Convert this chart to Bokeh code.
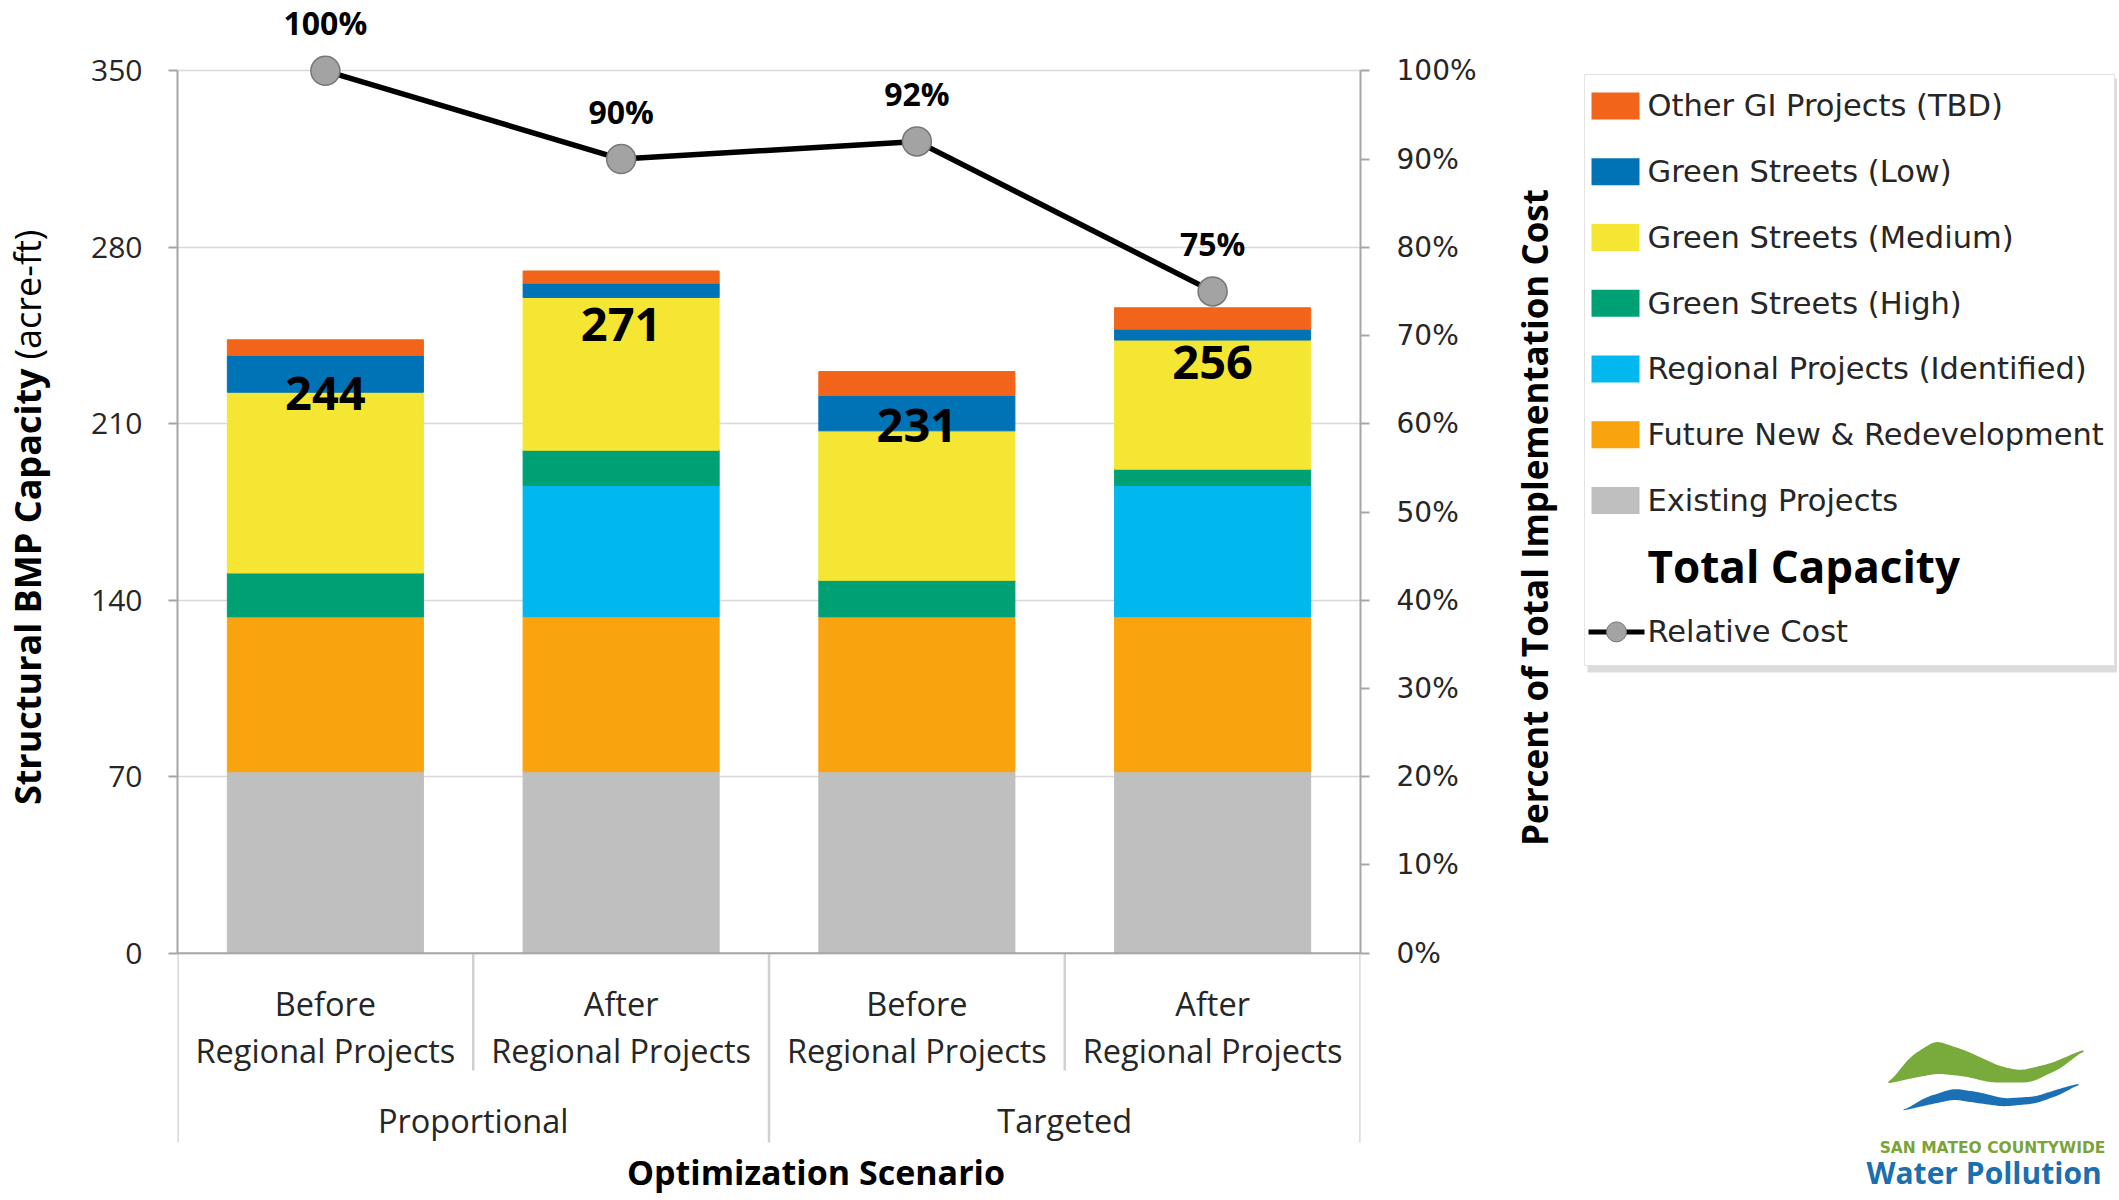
import numpy as np
from bokeh.plotting import figure
from bokeh.models import (ColumnDataSource, FactorRange, Range1d, LinearAxis, FixedTicker,
                          PrintfTickFormatter, Span)
from bokeh.layouts import row
from bokeh.embed import file_html
from bokeh.resources import INLINE
from bokeh.core.properties import value

# ---------------- data ----------------
groups = ["Proportional", "Proportional", "Targeted", "Targeted"]
stages = ["Before", "After", "Before", "After"]
stage_sub = ["Regional Projects"] * 4
group_names = ["Proportional", "Targeted"]

existing = [72.0, 72.0, 72.0, 72.0]
future_new = [61.5, 61.5, 61.5, 61.5]
regional = [0.0, 52.0, 0.0, 52.0]
gs_high = [17.3, 14.0, 14.4, 6.5]
gs_medium = [71.7, 60.6, 59.3, 51.2]
gs_low = [14.6, 5.6, 14.0, 4.3]
other_gi = [6.2, 4.9, 9.5, 8.5]
total_capacity = [244, 271, 231, 256]
relative_cost = [100, 90, 92, 75]

series_keys = ["existing", "future_new", "regional", "gs_high", "gs_medium", "gs_low", "other_gi"]
series_labels = ["Existing Projects", "Future New & Redevelopment", "Regional Projects (Identified)",
                 "Green Streets (High)", "Green Streets (Medium)", "Green Streets (Low)",
                 "Other GI Projects (TBD)"]
series_colors = ["#bfbfbf", "#f9a30f", "#00b7ee", "#00a075", "#f5e634", "#0073b7", "#f26419"]

left_ticks = [0, 70, 140, 210, 280, 350]
right_ticks = [0, 10, 20, 30, 40, 50, 60, 70, 80, 90, 100]

# ---------------- layout constants (page pixels) ----------------
H = 1198
Y0_PAGE, Y350_PAGE = 952.7, 70.3
PPU = (Y0_PAGE - Y350_PAGE) / 350.0


def yd(page_y):
    return (Y0_PAGE - page_y) / PPU


y_start, y_end = yd(H), yd(0)

factors = list(zip(groups, stages))
src = ColumnDataSource(dict(
    x=factors, existing=existing, future_new=future_new, regional=regional,
    gs_high=gs_high, gs_medium=gs_medium, gs_low=gs_low, other_gi=other_gi,
    total=total_capacity, total_txt=[str(v) for v in total_capacity],
    cost=relative_cost, cost_txt=["%d%%" % v for v in relative_cost],
    stage=stages, stage_sub=stage_sub,
))

# ---------------- main figure ----------------
p = figure(width=1440, height=H,
           x_range=FactorRange(*factors, group_padding=0, factor_padding=0, range_padding=0),
           y_range=Range1d(y_start, y_end), x_axis_location=None, y_axis_location="left",
           toolbar_location=None, output_backend="svg", title=None,
           min_border_left=117, min_border_right=140, min_border_top=0, min_border_bottom=0)
p.outline_line_color = None
p.xgrid.visible = False
p.ygrid.ticker = FixedTicker(ticks=left_ticks)
p.ygrid.grid_line_color = "#d9d9d9"
p.ygrid.grid_line_width = 1.5

p.extra_y_ranges = {"pct": Range1d(y_start / 3.5, y_end / 3.5)}

ax = p.yaxis[0]
ax.ticker = FixedTicker(ticks=left_ticks)
ax.bounds = (0, 350)
ax.axis_line_color = "#a6a6a6"
ax.axis_line_width = 2
ax.major_tick_line_color = "#a6a6a6"
ax.major_tick_line_width = 2
ax.major_tick_out = 9
ax.major_tick_in = 0
ax.minor_tick_line_color = None
ax.major_label_text_font = "Open Sans"
ax.major_label_text_font_size = "30px"
ax.major_label_text_color = "#262626"
ax.major_label_standoff = 26

rax = LinearAxis(y_range_name="pct", ticker=FixedTicker(ticks=right_ticks),
                 formatter=PrintfTickFormatter(format="%d%%"), bounds=(0, 100))
rax.axis_line_color = "#a6a6a6"
rax.axis_line_width = 2
rax.major_tick_line_color = "#a6a6a6"
rax.major_tick_line_width = 2
rax.major_tick_out = 9
rax.major_tick_in = 0
rax.minor_tick_line_color = None
rax.major_label_text_font = "DejaVu Sans"
rax.major_label_text_font_size = "28px"
rax.major_label_text_color = "#262626"
rax.major_label_standoff = 27
p.add_layout(rax, "right")

# stacked bars
p.vbar_stack(series_keys, x="x", width=0.663, color=series_colors, source=src)

# baseline
p.add_layout(Span(location=0, dimension="width", line_color="#a6a6a6", line_width=2))

# total labels
p.text(x="x", y="total", text="total_txt", source=src, text_font=value("Open Sans"),
       text_font_style="bold", text_font_size="47px", text_align="center",
       text_baseline="middle", y_offset=55, text_color="black")

# relative cost line
p.line(x="x", y="cost", source=src, y_range_name="pct", line_color="black", line_width=5.5)
p.scatter(x="x", y="cost", source=src, y_range_name="pct", size=29,
          fill_color="#a3a3a3", line_color="#777777", line_width=1.5)
p.text(x="x", y="cost", text="cost_txt", source=src, y_range_name="pct",
       text_font=value("Open Sans"), text_font_style="bold", text_font_size="32px",
       text_align="center", text_baseline="middle", y_offset=-48, text_color="black")

# category labels (below the baseline, inside the extended frame)
p.text(x="x", y=yd(1003), text="stage", source=src, text_font=value("Open Sans"),
       text_font_size="32.5px", text_align="center", text_baseline="middle", text_color="#262626")
p.text(x="x", y=yd(1050), text="stage_sub", source=src, text_font=value("Open Sans"),
       text_font_size="32.5px", text_align="center", text_baseline="middle", text_color="#262626")
p.text(x=group_names, y=[yd(1120)] * 2, text=group_names, text_font=value("Open Sans"),
       text_font_size="32.5px", text_align="center", text_baseline="middle", text_color="#262626")
p.text(x=[2.0], y=[yd(1171)], text=["Optimization Scenario"], x_offset=47,
       text_font=value("Open Sans"), text_font_style="bold", text_font_size="34px",
       text_align="center", text_baseline="middle", text_color="black")

# category separators
sep_x = [0, 1, 2, 3, 4]
sep_y1 = [yd(1142), yd(1070), yd(1142), yd(1070), yd(1142)]
p.segment(x0=sep_x, y0=[0] * 5, x1=sep_x, y1=sep_y1, line_color="#d0d0d0", line_width=2.5)

# ---------------- left title figure ----------------
lf = figure(width=60, height=H, x_range=Range1d(0, 60), y_range=Range1d(0, H),
            x_axis_location=None, y_axis_location=None, toolbar_location=None,
            output_backend="svg", min_border=0, title=None)
lf.outline_line_color = None
lf.grid.visible = False

lf.text(x=[27], y=[H - 368], text=["Structural BMP Capacity"], angle=np.pi / 2,
        text_font=value("Open Sans"), text_font_style="bold", text_font_size="36px",
        text_align="right", text_baseline="middle", text_color="black")
lf.text(x=[27], y=[H - 359], text=["(acre-ft)"], angle=np.pi / 2,
        text_font=value("Open Sans"), text_font_size="36px",
        text_align="left", text_baseline="middle", text_color="black")

# ---------------- legend / right title figure ----------------
X0 = 1500
LW = 617
lg = figure(width=LW, height=H, x_range=Range1d(0, LW), y_range=Range1d(0, H),
            x_axis_location=None, y_axis_location=None, toolbar_location=None,
            output_backend="svg", min_border=0, title=None)
lg.outline_line_color = None
lg.grid.visible = False


def lx(px):
    return np.asarray(px, dtype=float) - X0


def ly(py):
    return H - np.asarray(py, dtype=float)


lg.text(x=[lx(1534)], y=[ly(517)], text=["Percent of Total Implementation Cost"], angle=np.pi / 2,
        text_font=value("Open Sans"), text_font_style="bold", text_font_size="35px",
        text_align="center", text_baseline="middle", text_color="black")

# legend box with shadow
lg.quad(left=[lx(1587)], right=[lx(2117)], top=[ly(78)], bottom=[ly(672)],
        fill_color="#9a9a9a", fill_alpha=0.35, line_color=None)
lg.quad(left=[lx(1584)], right=[lx(2114)], top=[ly(74)], bottom=[ly(665)],
        fill_color="white", line_color="#e3e3e3", line_width=1)

row_step = 65.75
leg_labels = series_labels[::-1]
leg_colors = series_colors[::-1]
row_y = [float(ly(105.4 + k * row_step)) for k in range(len(leg_labels))]
n = len(leg_labels)
lg.quad(left=[float(lx(1591))] * n, right=[float(lx(1639))] * n,
        top=[y + 13.5 for y in row_y], bottom=[y - 13.5 for y in row_y],
        fill_color=leg_colors, line_color=None)
lg.text(x=[float(lx(1647))] * n, y=row_y, text=leg_labels,
        text_font=value("DejaVu Sans"), text_font_size="30.5px", text_align="left",
        text_baseline="middle", text_color="#262626")
lg.text(x=[lx(1647)], y=[ly(105.4 + 7 * row_step)], text=["Total Capacity"],
        text_font=value("Open Sans"), text_font_style="bold", text_font_size="44px",
        text_align="left", text_baseline="middle", text_color="black")
yrc = float(ly(105.4 + 8 * row_step))
lg.line(x=[lx(1588), lx(1644)], y=[yrc, yrc], line_color="black", line_width=5)
lg.scatter(x=[lx(1616)], y=[yrc], size=20, fill_color="#a3a3a3", line_color="#777777")
lg.text(x=[lx(1647)], y=[yrc], text=["Relative Cost"],
        text_font=value("DejaVu Sans"), text_font_size="30.5px", text_align="left",
        text_baseline="middle", text_color="#262626")


# logo (decoration)
def smooth_edge(xs, ys, grid):
    yy = np.interp(grid, xs, ys)
    k = 9
    pad = np.concatenate([np.full(k // 2, yy[0]), yy, np.full(k // 2, yy[-1])])
    return np.convolve(pad, np.ones(k) / k, mode="valid")


gx = np.linspace(1888, 2083, 120)
g_top = smooth_edge([1888, 1910, 1935, 1965, 2000, 2020, 2050, 2083],
                    [1083, 1056, 1040, 1050, 1066, 1070, 1063, 1049], gx)
g_bot = smooth_edge([1888, 1910, 1937, 1965, 1990, 2030, 2060, 2083],
                    [1083, 1078, 1073, 1076, 1082, 1082, 1068, 1050], gx)
bx = np.linspace(1903, 2078, 120)
b_top = smooth_edge([1903, 1925, 1953, 1980, 2003, 2035, 2060, 2078],
                    [1110, 1097, 1088, 1092, 1098, 1096, 1088, 1083], bx)
b_bot = smooth_edge([1903, 1925, 1953, 1980, 2003, 2035, 2060, 2078],
                    [1110, 1105, 1099, 1103, 1106, 1103, 1094, 1084], bx)
lg.patch(x=list(lx(np.concatenate([gx, gx[::-1]]))),
         y=list(ly(np.concatenate([g_top, g_bot[::-1]]))),
         fill_color="#79aa3c", line_color=None)
lg.patch(x=list(lx(np.concatenate([bx, bx[::-1]]))),
         y=list(ly(np.concatenate([b_top, b_bot[::-1]]))),
         fill_color="#1a6fb5", line_color=None)
lg.text(x=[lx(1992)], y=[ly(1147)], text=["SAN MATEO COUNTYWIDE"],
        text_font=value("DejaVu Sans"), text_font_style="bold", text_font_size="15.5px",
        text_align="center", text_baseline="middle", text_color="#7aa33a")
lg.text(x=[lx(1866)], y=[ly(1172)], text=["Water Pollution"],
        text_font=value("Open Sans"), text_font_style="bold", text_font_size="30px",
        text_align="left", text_baseline="middle", text_color="#1b6fae")

layout = row(lf, p, lg)
open("out.html", "w").write(file_html(layout, INLINE))
